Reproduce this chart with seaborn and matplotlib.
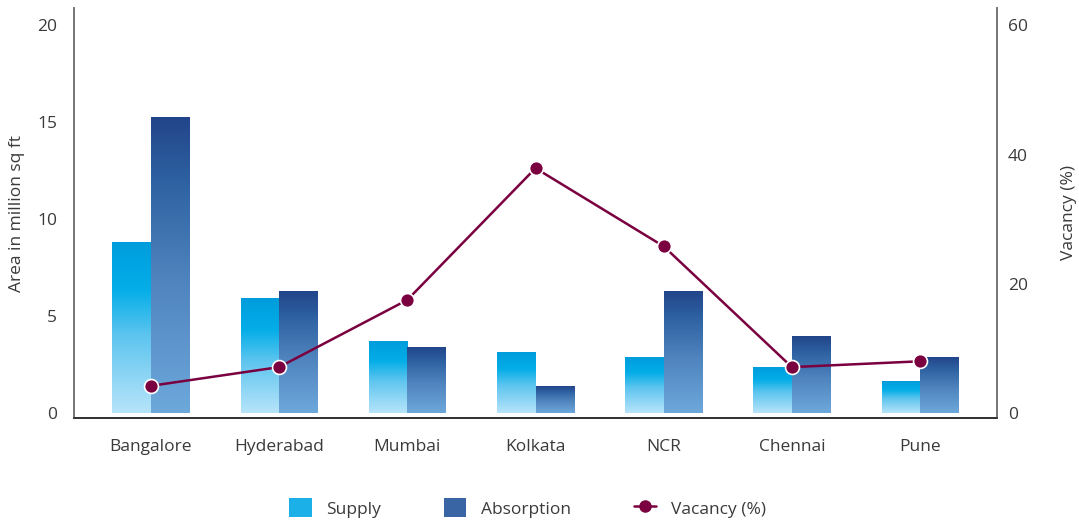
import numpy as np
import pandas as pd
import matplotlib
matplotlib.use("Agg")
import matplotlib.pyplot as plt
from matplotlib.colors import LinearSegmentedColormap
from matplotlib.patches import Patch
from matplotlib.lines import Line2D
import seaborn as sns

cities = ["Bangalore", "Hyderabad", "Mumbai", "Kolkata", "NCR", "Chennai", "Pune"]
supply = [8.8, 5.9, 3.7, 3.1, 2.85, 2.35, 1.65]
absorption = [15.25, 6.25, 3.4, 1.35, 6.25, 3.95, 2.85]
vacancy = [4.2, 7.1, 17.5, 37.9, 25.8, 7.1, 8.0]
left_ticks = [0, 5, 10, 15, 20]
right_ticks = [0, 20, 40, 60]

TEXT = "#3a3a3a"
MAROON = "#7A0040"

sns.set_theme(style="white")
plt.rcParams["font.family"] = ["Open Sans", "DejaVu Sans"]

df = pd.DataFrame({
    "City": cities * 2,
    "Area": supply + absorption,
    "Series": ["Supply"] * len(cities) + ["Absorption"] * len(cities),
})
vac_df = pd.DataFrame({"City": cities, "Vacancy": vacancy})

fig = plt.figure(figsize=(10.79, 5.21), dpi=100)
ax = fig.add_axes([74 / 1079, 1 - 418 / 521, (997 - 74) / 1079, (418 - 8) / 521])

sns.barplot(data=df, x="City", y="Area", hue="Series", order=cities,
            hue_order=["Supply", "Absorption"], width=0.6,
            palette=["#1BB0E8", "#3A65A5"], ax=ax, legend=False,
            saturation=1, linewidth=0)

cmaps = {
    "Supply": LinearSegmentedColormap.from_list(
        "sup", [(0.0, "#B7E4FA"), (0.45, "#5EC5EF"), (0.72, "#05AEE8"),
                (0.85, "#00A6E3"), (1.0, "#009CDB")]),
    "Absorption": LinearSegmentedColormap.from_list(
        "abs", [(0.0, "#6DA8DB"), (0.45, "#4F84BE"), (0.78, "#2E62A2"),
                (1.0, "#22458A")]),
}

# Replace each flat bar with a vertical gradient of the same extent
grad = np.linspace(0, 1, 256).reshape(-1, 1)
bars = [p for p in ax.patches if p.get_height() > 0]
n = len(cities)
for i, p in enumerate(bars):
    series = "Supply" if i < n else "Absorption"
    x0, w, h = p.get_x(), p.get_width(), p.get_height()
    ax.imshow(grad, extent=[x0, x0 + w, 0, h], origin="lower",
              cmap=cmaps[series], aspect="auto", zorder=2,
              interpolation="bilinear")
    p.set_visible(False)

ax.set_xlim(-0.6, 6.6)
ax.set_ylim(-0.26, 20.9)
ax.set_yticks(left_ticks)
ax.set_ylabel("Area in million sq ft", color=TEXT, fontsize=12.5, labelpad=9)
ax.set_xlabel("")
ax.tick_params(axis="both", length=0, labelcolor=TEXT, labelsize=12.5)
ax.tick_params(axis="y", pad=12)
ax.tick_params(axis="x", pad=15)

ax2 = ax.twinx()
sns.lineplot(data=vac_df, x="City", y="Vacancy", ax=ax2, color=MAROON,
             linewidth=1.8, marker="o", markersize=10,
             markeredgecolor="white", markeredgewidth=1.2, sort=False)
ax2.set_ylim(-0.78, 62.7)
ax2.set_yticks(right_ticks)
ax2.set_ylabel("Vacancy (%)", color=TEXT, fontsize=12.5, labelpad=24)
ax2.tick_params(axis="y", length=0, labelcolor=TEXT, labelsize=12.5, pad=8)
ax2.set_xlim(-0.6, 6.6)

for a in (ax, ax2):
    a.spines["top"].set_visible(False)
    a.spines["left"].set_color("#777777")
    a.spines["right"].set_color("#777777")
    a.spines["bottom"].set_color("#333333")
    for s in ("left", "right", "bottom"):
        a.spines[s].set_linewidth(1.3)
    a.grid(False)

handles = [
    Patch(facecolor="#1BB0E8", edgecolor="none", label="Supply"),
    Patch(facecolor="#3A65A5", edgecolor="none", label="Absorption"),
    Line2D([0], [0], color=MAROON, linewidth=1.8, marker="o", markersize=8,
           markeredgecolor=MAROON, label="Vacancy (%)"),
]
leg = fig.legend(handles=handles, loc="center", bbox_to_anchor=(0.489, 1 - 508 / 521),
                 ncol=3, frameon=False, fontsize=12.5, handlelength=1.3,
                 handleheight=1.3, handletextpad=0.85, columnspacing=3.6)
for t in leg.get_texts():
    t.set_color(TEXT)

fig.savefig("out.png", dpi=100)
